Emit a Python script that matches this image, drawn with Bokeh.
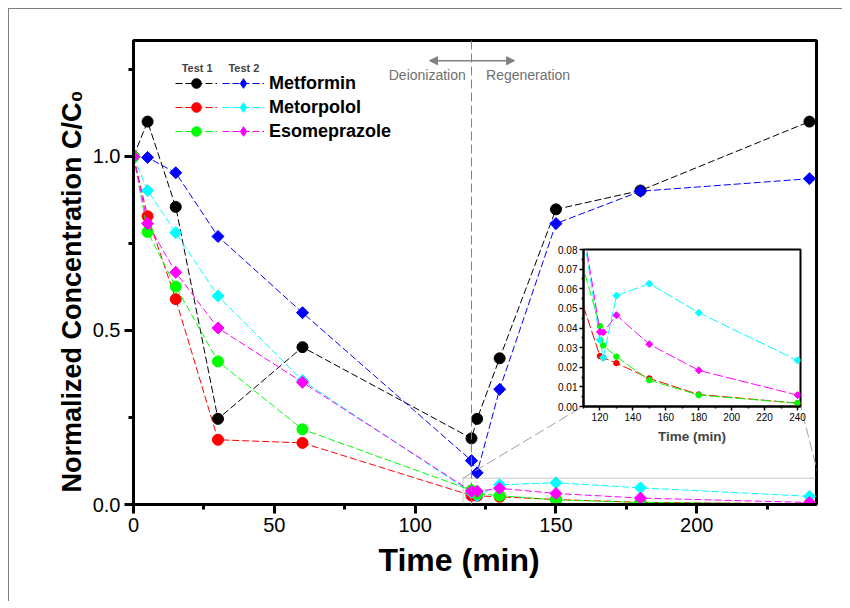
import numpy as np
from bokeh.plotting import figure
from bokeh.models import (Range1d, Legend, LegendItem, Label, Span, BoxAnnotation, Title,
                          Arrow, NormalHead, FixedTicker, PrintfTickFormatter, GridBox)
from bokeh.embed import file_html
from bokeh.resources import INLINE

# ---------------- data ----------------
time_min = [0, 5, 15, 30, 60, 120, 122, 130, 150, 180, 240]
metformin_test1 = [1.0, 1.10, 0.855, 0.246, 0.452, 0.190, 0.246, 0.420, 0.848, 0.902, 1.10]
metformin_test2 = [1.0, 0.997, 0.953, 0.770, 0.551, 0.126, 0.091, 0.331, 0.807, 0.900, 0.936]
metorpolol_test1 = [1.0, 0.828, 0.590, 0.186, 0.177, 0.0257, 0.0249, 0.0221, 0.0143, 0.0061, 0.0017]
metorpolol_test2 = [1.0, 0.902, 0.781, 0.599, 0.356, 0.0339, 0.0249, 0.0565, 0.0626, 0.0478, 0.0235]
esomeprazole_test1 = [1.0, 0.783, 0.626, 0.411, 0.216, 0.0410, 0.0311, 0.0254, 0.0134, 0.0058, 0.0017]
esomeprazole_test2 = [1.0, 0.807, 0.667, 0.507, 0.351, 0.0380, 0.0378, 0.0465, 0.0317, 0.0184, 0.0058]

drugs = ["Metformin", "Metorpolol", "Esomeprazole"]
x_ticks = [0, 50, 100, 150, 200]
x_minor = [25, 75, 125, 175, 225]
y_ticks = [0.0, 0.5, 1.0]
y_minor = [0.25, 0.75, 1.25]
inset_x_ticks = [120, 140, 160, 180, 200, 220, 240]
inset_x_minor = [110, 130, 150, 170, 190, 210, 230]
inset_y_ticks = [0.0, 0.01, 0.02, 0.03, 0.04, 0.05, 0.06, 0.07, 0.08]
inset_y_minor = [0.005, 0.015, 0.025, 0.035, 0.045, 0.055, 0.065, 0.075]

# series: (values, colour, marker, test, drug index)
series = [
    (metformin_test1, "#000000", "circle", 1, 0),
    (metformin_test2, "#0000FF", "diamond", 2, 0),
    (metorpolol_test1, "#FF0000", "circle", 1, 1),
    (metorpolol_test2, "#00FFFF", "diamond", 2, 1),
    (esomeprazole_test1, "#00FF00", "circle", 1, 2),
    (esomeprazole_test2, "#FF00FF", "diamond", 2, 2),
]

FONT = "Liberation Sans"
GRAY = "#808080"

# ---------------- main figure ----------------
p = figure(frame_width=683, frame_height=464,
           x_range=Range1d(0, 242.5), y_range=Range1d(0, 1.333),
           min_border_left=124, min_border_top=31, min_border_right=26, min_border_bottom=96,
           output_backend="svg", toolbar_location=None, frame_align=False,
           background_fill_color="white", border_fill_color="white")
p.grid.visible = False
p.outline_line_color = "black"
p.outline_line_width = 3

for ax in (p.xaxis[0], p.yaxis[0]):
    ax.axis_line_width = 3
    ax.major_tick_line_width = 3
    ax.minor_tick_line_width = 3
    ax.major_tick_out = 9
    ax.major_tick_in = 0
    ax.minor_tick_out = 5
    ax.minor_tick_in = 0
    ax.major_label_text_font = FONT
    ax.major_label_text_font_size = "20px"
    ax.major_label_text_color = "black"

p.xaxis.ticker = FixedTicker(ticks=x_ticks, minor_ticks=x_minor)
p.yaxis.ticker = FixedTicker(ticks=y_ticks, minor_ticks=y_minor)
p.yaxis.formatter = PrintfTickFormatter(format="%.1f")
p.xaxis.major_label_standoff = 4
p.yaxis.major_label_standoff = 4

# axis titles (slightly off-centre, as in the original)
p.add_layout(Title(text="Time (min)", align="left", offset=245, standoff=11,
                   text_font=FONT, text_font_size="32px", text_font_style="bold",
                   text_color="black"), "below")
p.add_layout(Title(text="Normalized Concentration C/C\u2080", align="left", offset=12,
                   standoff=6, text_font=FONT, text_font_size="27px",
                   text_font_style="bold", text_color="black"), "left")

# zoom box and connectors
p.add_layout(BoxAnnotation(left=117, right=243.4, bottom=-0.017, top=0.0756,
                           fill_alpha=0, line_color=GRAY, line_width=1.5))
p.add_layout(Arrow(end=None, x_start=117, y_start=0.0756, x_end=159.7, y_end=0.2825,
                   line_color="#a0a0a0", line_width=1, line_dash="10 4"))
p.add_layout(Arrow(end=None, x_start=243.4, y_start=0.0756, x_end=236.9, y_end=0.2825,
                   line_color="#a0a0a0", line_width=1, line_dash="10 4"))

# deionization / regeneration marker
p.add_layout(Span(location=120, dimension="height", line_color=GRAY,
                  line_dash="9 4", line_width=1))
for x_end in (105.1, 135.3):
    p.add_layout(Arrow(end=NormalHead(size=8, fill_color=GRAY, line_color=GRAY),
                       x_start=120, y_start=1.275, x_end=x_end, y_end=1.275,
                       line_color=GRAY, line_width=1.5))
p.add_layout(Label(x=104.3, y=1.233, text="Deionization", text_align="center",
                   text_baseline="middle", text_font=FONT, text_font_size="14px",
                   text_color="#707070"))
p.add_layout(Label(x=140.1, y=1.233, text="Regeneration", text_align="center",
                   text_baseline="middle", text_font=FONT, text_font_size="14px",
                   text_color="#707070"))

items1, items2 = [], []
for vals, col, mk, test, di in series:
    ln = p.line(time_min, vals, line_color=col, line_width=1, line_dash="7 3")
    if mk == "circle":
        sc = p.scatter(time_min, vals, marker="circle", size=11,
                       fill_color=col, line_color=col)
        items1.append(LegendItem(label="", renderers=[ln, sc]))
    else:
        p.scatter(time_min, vals, marker="square", size=8.5, angle=np.pi / 4,
                  fill_color=col, line_color=col)
        # legend-only diamond glyph (the legend does not rotate markers); hidden in plot
        proxy = p.scatter(time_min, vals, marker="diamond", fill_color=col,
                          line_color=col, visible=False)
        items2.append(LegendItem(label=drugs[di], renderers=[ln, proxy]))

common = dict(background_fill_alpha=0, border_line_alpha=0, padding=0, margin=0,
              spacing=0, glyph_width=42, glyph_height=24, label_height=24,
              label_standoff=5, label_text_font=FONT, label_text_font_style="bold",
              label_text_font_size="18px", label_text_color="black")
legA = Legend(items=items1, location=(42, 361), **common)
legB = Legend(items=items2, location=(89, 361), **common)
p.add_layout(legA)
p.add_layout(legB)

p.add_layout(Label(x=22.6, y=1.253, text="Test 1", text_align="center",
                   text_baseline="middle", text_font=FONT, text_font_size="11px",
                   text_font_style="bold"))
p.add_layout(Label(x=39.2, y=1.253, text="Test 2", text_align="center",
                   text_baseline="middle", text_font=FONT, text_font_size="11px",
                   text_font_style="bold"))

# ---------------- inset (same origin as main figure, frame placed by its borders) ----------------
ins = figure(frame_width=217, frame_height=157,
             x_range=Range1d(110, 241.8), y_range=Range1d(0, 0.08),
             min_border_left=574, min_border_right=36, min_border_top=240, min_border_bottom=195,
             output_backend="svg", toolbar_location=None, frame_align=False,
             background_fill_color="white", border_fill_alpha=0)
ins.grid.visible = False
ins.outline_line_color = "black"
ins.outline_line_width = 2
for ax in (ins.xaxis[0], ins.yaxis[0]):
    ax.axis_line_width = 2
    ax.major_tick_line_width = 1.5
    ax.minor_tick_line_width = 1.5
    ax.major_tick_out = 4
    ax.major_tick_in = 0
    ax.minor_tick_out = 2
    ax.minor_tick_in = 0
    ax.major_label_text_font = FONT
    ax.major_label_text_font_size = "10px"
    ax.major_label_text_color = "black"
    ax.major_label_standoff = 2
ins.xaxis.ticker = FixedTicker(ticks=inset_x_ticks, minor_ticks=inset_x_minor)
ins.yaxis.ticker = FixedTicker(ticks=inset_y_ticks, minor_ticks=inset_y_minor)
ins.yaxis.formatter = PrintfTickFormatter(format="%.2f")
ins.xaxis.axis_label = "Time (min)"
ins.xaxis.axis_label_text_font = FONT
ins.xaxis.axis_label_text_font_style = "bold"
ins.xaxis.axis_label_text_font_size = "13.5px"
ins.xaxis.axis_label_standoff = 5

for vals, col, mk, test, di in series:
    ins.line(time_min, vals, line_color=col, line_width=1, line_dash="10 3")
    if mk == "circle":
        ins.scatter(time_min, vals, marker="circle", size=5.5, fill_color=col, line_color=col)
    else:
        ins.scatter(time_min, vals, marker="square", size=5, angle=np.pi / 4,
                    fill_color=col, line_color=col)

# overlay: both figures share the same grid cell
layout = GridBox(children=[(p, 0, 0), (ins, 0, 0)], margin=(8, 0, 0, 8),
                 styles={"border-left": "1px solid #7f7f7f",
                         "border-top": "1px solid #7f7f7f"})

open("out.html", "w").write(file_html(layout, INLINE))
